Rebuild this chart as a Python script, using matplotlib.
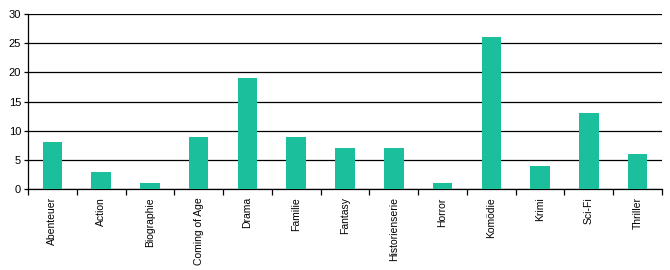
import matplotlib
matplotlib.use("Agg")
import matplotlib.pyplot as plt
import numpy as np

genres = ["Abenteuer", "Action", "Biographie", "Coming of Age", "Drama", "Familie",
          "Fantasy", "Historienserie", "Horror", "Komödie", "Krimi", "Sci-Fi", "Thriller"]
counts = [8, 3, 1, 9, 19, 9, 7, 7, 1, 26, 4, 13, 6]

C_BAR = "#1bbf9b"

plt.rcParams["font.family"] = ["Liberation Sans", "DejaVu Sans"]

fig = plt.figure(figsize=(6.7, 2.7), dpi=100)
ax = fig.add_axes([28 / 670, 1 - 189 / 270, (662 - 28) / 670, (189 - 14) / 270])

x = np.arange(len(genres))
ax.bar(x, counts, width=0.4, color=C_BAR, zorder=3)

ax.set_xlim(-0.5, len(genres) - 0.5)
ax.set_ylim(0, 30)
ax.set_yticks(range(0, 31, 5))
ax.yaxis.grid(True, color="black", lw=0.9, zorder=0)

ax.set_xticks(x)
ax.set_xticklabels(genres, rotation=90, fontsize=7.5)
ax.set_xticks(np.arange(-0.5, len(genres)), minor=True)
ax.tick_params(axis="x", which="major", length=0, pad=6)
ax.tick_params(axis="x", which="minor", length=4, width=0.9, direction="out")
ax.tick_params(axis="y", length=3, width=0.9, labelsize=8, pad=2)

for s in ("top", "right"):
    ax.spines[s].set_visible(False)
for s in ("left", "bottom"):
    ax.spines[s].set_linewidth(0.9)

fig.savefig("out.png", dpi=100)
